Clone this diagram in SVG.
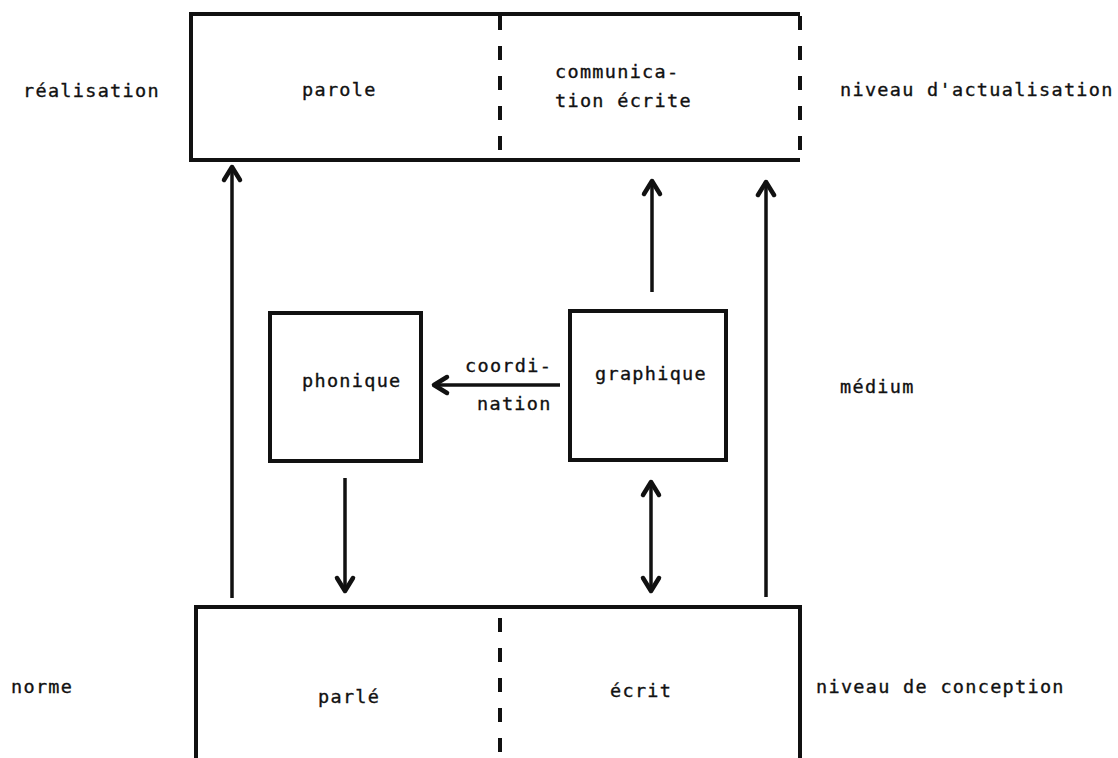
<svg xmlns="http://www.w3.org/2000/svg" width="1118" height="758" viewBox="0 0 1118 758">
<style>
  text { font-family: "DejaVu Sans Mono", "Liberation Mono", monospace; font-size: 18.5px; letter-spacing: 1.3px; fill: #111; stroke: #111; stroke-width: 0.35; }
  .box { fill: none; stroke: #111; stroke-width: 4; }
  .edge { stroke: #111; stroke-width: 4; fill: none; }
  .dash { stroke: #111; stroke-width: 4; stroke-dasharray: 14 16; fill: none; }
  .arr { stroke: #111; stroke-width: 3.5; fill: none; }
  .head { stroke: #111; stroke-width: 4.5; fill: none; stroke-linejoin: round; stroke-linecap: round; }
</style>
<rect width="1118" height="758" fill="#fff"/>

<g id="realisation-box">
  <path class="edge" d="M800,14 L191,14 L191,160 L800,160"/>
  <line class="dash" x1="500" y1="16" x2="500" y2="160"/>
  <line class="dash" x1="800" y1="16" x2="800" y2="160"/>
  <text x="302" y="96">parole</text>
  <text x="555" y="78">communica-</text>
  <text x="555" y="107">tion écrite</text>
</g>

<g id="conception-box">
  <path class="edge" d="M196,758 L196,607 L800,607 L800,758"/>
  <line class="dash" x1="500" y1="618" x2="500" y2="758"/>
  <text x="318" y="703">parlé</text>
  <text x="610" y="697">écrit</text>
</g>

<g id="phonique">
  <rect class="box" x="270" y="313" width="151" height="148"/>
  <text x="302" y="387">phonique</text>
</g>

<g id="graphique">
  <rect class="box" x="570" y="311" width="156" height="149"/>
  <text x="595" y="380">graphique</text>
</g>

<g id="labels">
  <text x="23" y="97">réalisation</text>
  <text x="840" y="96">niveau d'actualisation</text>
  <text x="840" y="393">médium</text>
  <text x="11" y="693">norme</text>
  <text x="816" y="693">niveau de conception</text>
  <text x="465" y="372">coordi-</text>
  <text x="477" y="410">nation</text>
</g>

<g id="connectors">
  <line class="arr" x1="232" y1="598" x2="232" y2="168"/>
  <path class="head" d="M224,180 L232,167 L240,180"/>

  <line class="arr" x1="766" y1="597" x2="766" y2="183"/>
  <path class="head" d="M758,195 L766,182 L774,195"/>

  <line class="arr" x1="652" y1="292" x2="652" y2="182"/>
  <path class="head" d="M644,194 L652,181 L660,194"/>

  <line class="arr" x1="345" y1="478" x2="345" y2="590"/>
  <path class="head" d="M337,578 L345,591 L353,578"/>

  <line class="arr" x1="651" y1="483" x2="651" y2="590"/>
  <path class="head" d="M643,495 L651,482 L659,495"/>
  <path class="head" d="M643,578 L651,591 L659,578"/>

  <line class="arr" x1="560" y1="385" x2="434" y2="385"/>
  <path class="head" d="M447,377 L434,385 L447,393"/>
</g>
</svg>
